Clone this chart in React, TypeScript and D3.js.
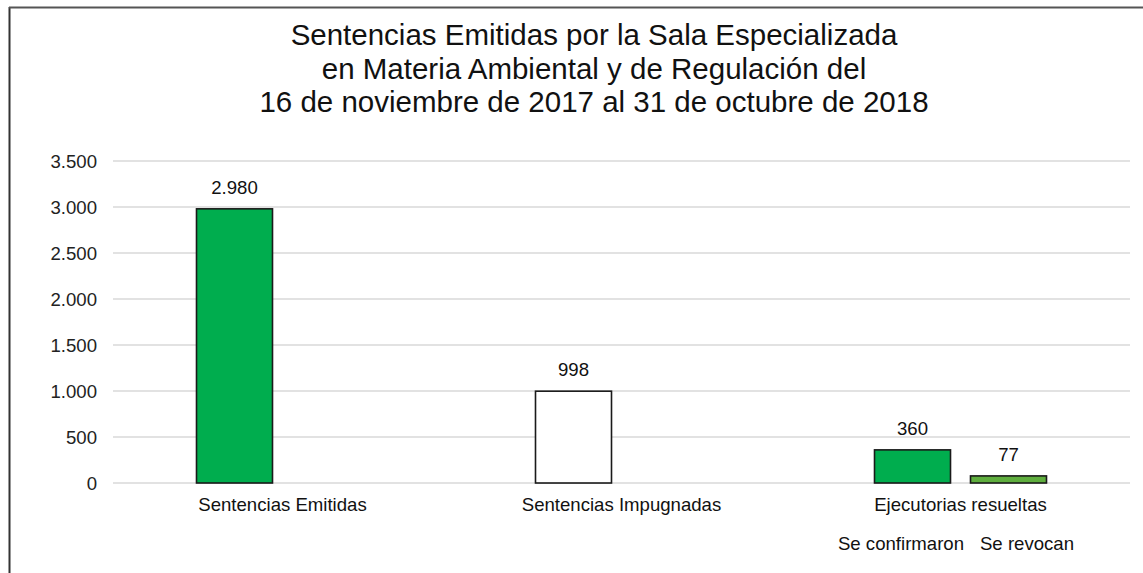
import React from "react";
import * as d3 from "d3";

const categories = ["Sentencias Emitidas", "Sentencias Impugnadas", "Ejecutorias resueltas"];
const series1 = [2980, 998, 360];
const series2: (number | null)[] = [null, null, 77];
const series1Colors = ["#00AD4E", "#FFFFFF", "#00AD4E"];
const series2Color = "#5FAE3E";
const yTicks = [0, 500, 1000, 1500, 2000, 2500, 3000, 3500];
const subLabels = ["Se confirmaron", "Se revocan"];
const titleLines = [
  "Sentencias Emitidas por la Sala Especializada",
  "en Materia Ambiental y de Regulación del",
  "16 de noviembre de 2017 al 31 de octubre de 2018",
];

const W = 1143;
const H = 573;
const left = 113;
const right = 1130;
const top = 161;
const bottom = 483;
const font = "'Liberation Sans', Arial, sans-serif";
const fs = 18.6;

export default function App() {
  const x = d3.scaleBand<string>().domain(categories).range([left, right]).padding(0);
  const y = d3.scaleLinear().domain([0, 3500]).range([bottom, top]);
  const barW = 76;
  const gap = 20;
  const fmt = (v: number) => d3.format(",")(v).replace(/,/g, ".");

  return (
    <svg width={W} height={H} style={{ position: "absolute", left: 0, top: 0, background: "#fff" }} fontFamily={font}>
      <rect x={0} y={0} width={W} height={H} fill="#fff" />
      <line x1={9.5} y1={7} x2={9.5} y2={H} stroke="#333" strokeWidth={2} />
      <line x1={9} y1={7.5} x2={W} y2={7.5} stroke="#555" strokeWidth={2} />
      {titleLines.map((t, i) => (
        <text key={i} x={594} y={45 + i * 33.5} textAnchor="middle" fontSize={29.5} fill="#111">
          {t}
        </text>
      ))}
      {yTicks.map((t) => (
        <g key={t}>
          <line x1={left} x2={right} y1={y(t)} y2={y(t)} stroke="#d9d9d9" strokeWidth={1.3} />
          <text x={97} y={y(t) + 6.5} textAnchor="end" fontSize={fs} fill="#222">
            {fmt(t)}
          </text>
        </g>
      ))}
      {categories.map((c, i) => {
        const cx = (x(c) as number) + x.bandwidth() / 2;
        const x1 = cx - gap / 2 - barW;
        const x2 = cx + gap / 2;
        const v1 = series1[i];
        const v2 = series2[i];
        return (
          <g key={c}>
            <rect x={x1} y={y(v1)} width={barW} height={y(0) - y(v1)} fill={series1Colors[i]} stroke="#1a1a1a" strokeWidth={1.6} />
            <text x={x1 + barW / 2} y={y(v1) - 15} textAnchor="middle" fontSize={fs} fill="#111">
              {fmt(v1)}
            </text>
            {v2 != null && (
              <g>
                <rect x={x2} y={y(v2)} width={barW} height={y(0) - y(v2)} fill={series2Color} stroke="#1a1a1a" strokeWidth={1.6} />
                <text x={x2 + barW / 2} y={y(v2) - 15} textAnchor="middle" fontSize={fs} fill="#111">
                  {fmt(v2)}
                </text>
              </g>
            )}
            <text x={cx} y={511} textAnchor="middle" fontSize={fs} fill="#111">
              {c}
            </text>
          </g>
        );
      })}
      <text x={901} y={550} textAnchor="middle" fontSize={fs} fill="#111">
        {subLabels[0]}
      </text>
      <text x={1027} y={550} textAnchor="middle" fontSize={fs} fill="#111">
        {subLabels[1]}
      </text>
    </svg>
  );
}
